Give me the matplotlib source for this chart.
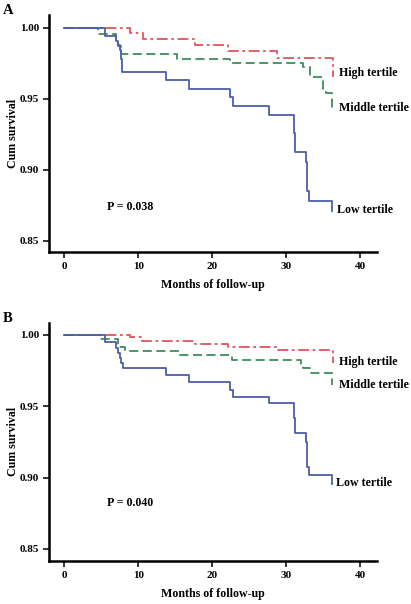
import matplotlib
matplotlib.use("Agg")
import matplotlib.pyplot as plt

# Panel A data (months, cumulative survival)
A_low_t = [0, 5.5, 7.0, 7.3, 7.5, 7.6, 7.8, 13.7, 16.8, 22.4, 22.8, 27.6, 31.0, 31.1, 32.6, 32.8, 33.0, 36.1]
A_low_s = [1.0, 0.9944, 0.991, 0.988, 0.984, 0.978, 0.969, 0.963, 0.957, 0.951, 0.9448, 0.9387, 0.926, 0.9125, 0.9055, 0.885, 0.8778, 0.871]
A_mid_t = [0, 4.6, 7.0, 7.3, 7.6, 15.2, 22.4, 32.3, 33.2, 34.9, 35.4, 36.1]
A_mid_s = [1.0, 0.9956, 0.992, 0.987, 0.9813, 0.978, 0.9752, 0.9724, 0.9656, 0.955, 0.9538, 0.942]
A_high_t = [0, 8.9, 10.6, 17.6, 22.1, 28.7, 36.3]
A_high_s = [1.0, 0.9961, 0.992, 0.9878, 0.9836, 0.9785, 0.9656]

# Panel B data
B_low_t = [0, 5.5, 7.0, 7.3, 7.5, 7.7, 7.9, 13.8, 16.8, 22.4, 22.8, 27.6, 31.0, 31.1, 32.6, 32.8, 33.0, 36.1]
B_low_s = [1.0, 0.9951, 0.991, 0.987, 0.984, 0.98, 0.9764, 0.9715, 0.9666, 0.9615, 0.9566, 0.952, 0.9414, 0.931, 0.925, 0.9076, 0.9015, 0.8955]
B_mid_t = [0, 4.8, 7.3, 8.2, 15.6, 22.6, 32.0, 32.3, 33.2, 36.1, 36.2]
B_mid_s = [1.0, 0.997, 0.9916, 0.9886, 0.9856, 0.9823, 0.9795, 0.9765, 0.973, 0.9715, 0.9648]
B_high_t = [0, 8.9, 10.4, 17.6, 22.1, 28.7, 36.3]
B_high_s = [1.0, 0.9982, 0.9958, 0.9935, 0.9916, 0.9893, 0.980]

x_ticks = [0, 10, 20, 30, 40]
y_ticks = [0.85, 0.90, 0.95, 1.00]
y_ticklabels = ["0.85", "0.90", "0.95", "1.00"]
group_labels = ["High tertile", "Middle tertile", "Low tertile"]
p_texts = ["P = 0.038", "P = 0.040"]
panel_letters = ["A", "B"]

plt.rcParams['font.family'] = ['Liberation Serif', 'DejaVu Serif']
plt.rcParams['font.weight'] = 'bold'

fig = plt.figure(figsize=(4.11, 6.04), dpi=100)
L, W = 49/411, (376.7-49)/411
axA = fig.add_axes([L, 0.5823, W, 0.975-0.5823])
axB = fig.add_axes([L, 0.0712, W, 0.4657-0.0712])

c_low = '#4b5ea8'
c_mid = '#3d8d5c'
c_high = '#e0555c'

panels = [
    (axA, A_low_t, A_low_s, A_mid_t, A_mid_s, A_high_t, A_high_s, (0.842, 1.0089),
     [(37.07, 0.9684), (37.07, 0.9436), (36.8, 0.8715)], (5.77, 0.874)),
    (axB, B_low_t, B_low_s, B_mid_t, B_mid_s, B_high_t, B_high_s, (0.8416, 1.0084),
     [(37.07, 0.9811), (37.07, 0.9648), (36.76, 0.8964)], (5.72, 0.882)),
]

for i, (ax, lt, ls, mt, ms, ht, hs, ylim, lab_pos, p_pos) in enumerate(panels):
    ax.step(ht, hs, where='post', color=c_high, lw=1.3, dashes=(6, 2, 1.5, 2))
    ax.step(mt, ms, where='post', color=c_mid, lw=1.3, dashes=(5, 2.5))
    ax.step(lt, ls, where='post', color=c_low, lw=1.3)
    ax.set_xlim(-2.07, 42.2)
    ax.set_ylim(*ylim)
    ax.set_xticks(x_ticks)
    ax.set_yticks(y_ticks)
    ax.set_yticklabels(y_ticklabels)
    for s in ['top', 'right']:
        ax.spines[s].set_visible(False)
    for s in ['left', 'bottom']:
        ax.spines[s].set_linewidth(1.8)
    ax.tick_params(direction='out', length=4.5, width=1.1, labelsize=8, pad=2.5)
    for lbl in ax.get_xticklabels() + ax.get_yticklabels():
        lbl.set_fontweight('bold')
    ax.set_xlabel("Months of follow-up", fontsize=8.6, fontweight='bold', labelpad=6)
    ax.set_ylabel("Cum survival", fontsize=8.6, fontweight='bold', labelpad=1)
    for txt, (x, y) in zip(group_labels, lab_pos):
        ax.text(x, y, txt, fontsize=8.6, fontweight='bold', va='center', ha='left')
    ax.text(p_pos[0], p_pos[1], p_texts[i], fontsize=8.6, fontweight='bold', va='center', ha='left')

fig.text(3/411, 1 - 10/604, panel_letters[0], fontsize=10.5, fontweight='bold', va='center', ha='left')
fig.text(3/411, 1 - 318/604, panel_letters[1], fontsize=10.5, fontweight='bold', va='center', ha='left')

fig.savefig("out.png", dpi=100)
